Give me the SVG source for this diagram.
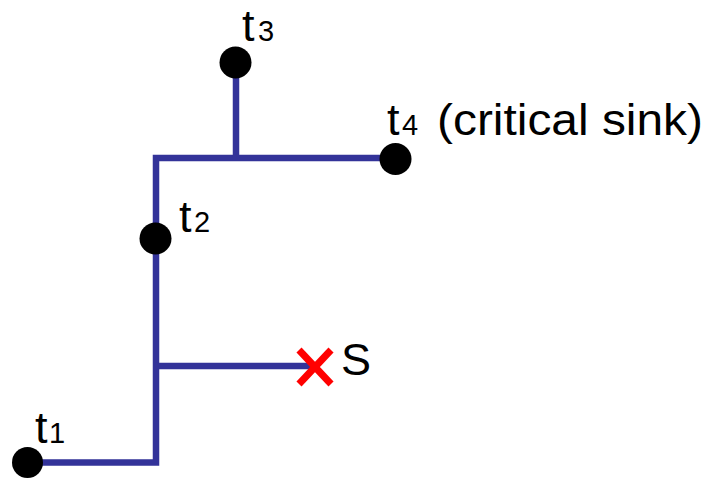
<svg xmlns="http://www.w3.org/2000/svg" width="707" height="479" viewBox="0 0 707 479">
<style>
.wire{stroke:#333399;stroke-width:6.5;fill:none;stroke-linejoin:miter;stroke-linecap:butt}
.dot{fill:#000}
.lbl{font-family:"Liberation Sans",Arial,sans-serif;font-size:45px;fill:#000}
.sub{font-size:29px}
.x{stroke:#ff0000;stroke-width:7;stroke-linecap:butt}
</style>
<g id="connectors">
<polyline class="wire" points="27,462.5 156,462.5 156,158 395,158"/>
<line class="wire" x1="236" y1="62" x2="236" y2="158"/>
<line class="wire" x1="156" y1="366" x2="315" y2="366"/>
</g>
<g id="t1">
<circle class="dot" cx="27.5" cy="462.5" r="15.5"/>
<text class="lbl" x="35" y="443">t<tspan class="sub" x="49">1</tspan></text>
</g>
<g id="t2">
<circle class="dot" cx="155.5" cy="238.5" r="16"/>
<text class="lbl" x="179" y="232">t<tspan class="sub" x="194">2</tspan></text>
</g>
<g id="t3">
<circle class="dot" cx="235.5" cy="62.5" r="16"/>
<text class="lbl" x="242" y="41">t<tspan class="sub" x="258">3</tspan></text>
</g>
<g id="t4">
<circle class="dot" cx="395.5" cy="159" r="16"/>
<text class="lbl" x="387" y="135">t<tspan class="sub" x="402">4</tspan></text>
<text class="lbl" x="437" y="135" textLength="266" lengthAdjust="spacingAndGlyphs">(critical sink)</text>
</g>
<g id="S">
<line class="x" x1="299" y1="350" x2="331" y2="384"/>
<line class="x" x1="331" y1="350" x2="299" y2="384"/>
<text class="lbl" x="341" y="375">S</text>
</g>
</svg>
